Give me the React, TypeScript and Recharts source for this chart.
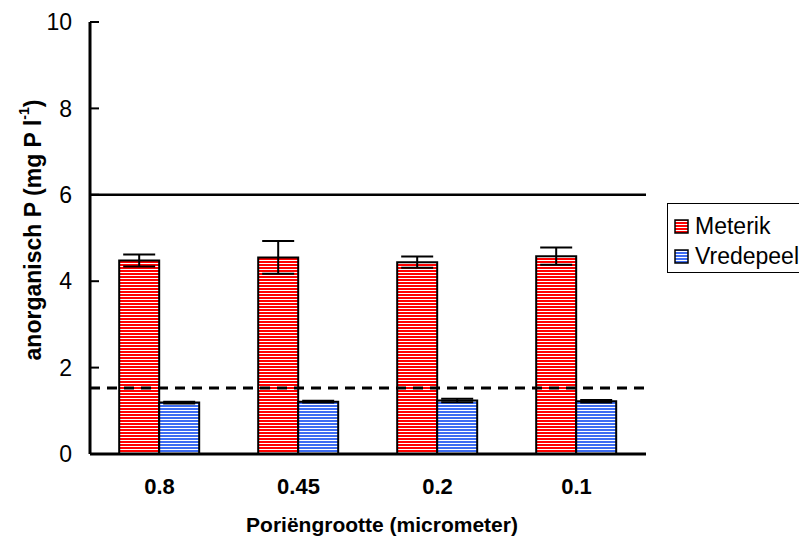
import React from 'react';
import {
  BarChart,
  Bar,
  XAxis,
  YAxis,
  ErrorBar,
  ReferenceLine,
  Legend
} from 'recharts';

// poriegrootte (micrometer)
const sizes = ['0.8', '0.45', '0.2', '0.1'];
const meterik = [4.48, 4.55, 4.44, 4.58];
const meterikErr = [0.14, 0.38, 0.13, 0.2];
const vredepeel = [1.19, 1.21, 1.24, 1.22];
const vredepeelErr = [0.02, 0.02, 0.04, 0.03];
const yTicks = [0, 2, 4, 6, 8, 10];
const limitLine = 6;
const dashedLine = 1.53;

const data = sizes.map((s, i) => ({
  size: s,
  meterik: meterik[i],
  meterikErr: meterikErr[i],
  vredepeel: vredepeel[i],
  vredepeelErr: vredepeelErr[i]
}));

const FONT = '"Liberation Sans", Arial, sans-serif';
const RED = '#ff0000';
const BLUE = '#3d6cf2';

const Stripes = ({ id, color }: { id: string; color: string }) => (
  <pattern id={id} width={4} height={3} patternUnits="userSpaceOnUse">
    <rect x={0} y={0} width={4} height={3} fill="#ffffff" />
    <rect x={0} y={0} width={4} height={2} fill={color} />
  </pattern>
);

const legendItems = [
  { name: 'Meterik', color: RED, id: 'lgRed' },
  { name: 'Vredepeel', color: BLUE, id: 'lgBlue' }
];

const CustomLegend = () => (
  <div
    style={{
      border: '1.5px solid #000',
      width: 150,
      height: 70,
      boxSizing: 'border-box',
      padding: '7px 0 0 6px',
      fontFamily: FONT,
      fontSize: 23,
      background: '#fff'
    }}
  >
    {legendItems.map((it) => (
      <div key={it.name} style={{ display: 'flex', alignItems: 'center', height: 30, whiteSpace: 'nowrap' }}>
        <svg width={16} height={15} style={{ marginRight: 5 }}>
          <defs>
            <Stripes id={it.id} color={it.color} />
          </defs>
          <rect x={1} y={1} width={13} height={13} fill={`url(#${it.id})`} stroke="#000" strokeWidth={1.5} />
        </svg>
        <span>{it.name}</span>
      </div>
    ))}
  </div>
);

const YTitle = ({ viewBox }: any) => {
  const cx = 33;
  const cy = viewBox.y + viewBox.height / 2 - 8;
  return (
    <text
      x={cx}
      y={cy}
      transform={`rotate(-90, ${cx}, ${cy})`}
      textAnchor="middle"
      dominantBaseline="central"
      fontFamily={FONT}
      fontWeight="bold"
      fontSize={23}
      fill="#000"
    >
      anorganisch P (mg P l
      <tspan fontSize={14} dy={-9}>-1</tspan>
      <tspan dy={9}>)</tspan>
    </text>
  );
};

export default function App() {
  return (
    <div style={{ position: 'absolute', left: 0, top: 0, width: 799, height: 540, overflow: 'hidden', background: '#fff' }}>
      <BarChart
        width={799}
        height={540}
        data={data}
        margin={{ top: 22, right: 3, bottom: 0, left: 0 }}
        barCategoryGap="21%"
        barGap={0}
      >
        <defs>
          <Stripes id="redStripes" color={RED} />
          <Stripes id="blueStripes" color={BLUE} />
        </defs>
        <XAxis
          dataKey="size"
          height={86}
          tickLine={false}
          tickSize={0}
          tickMargin={24}
          axisLine={{ stroke: '#000', strokeWidth: 3 }}
          tick={{ fontFamily: FONT, fontSize: 22, fontWeight: 'bold', fill: '#000' }}
          label={{
            value: 'Poriëngrootte (micrometer)',
            position: 'insideBottom',
            offset: 8,
            dx: 14,
            style: { fontFamily: FONT, fontSize: 21, fontWeight: 'bold', fill: '#000' }
          }}
        />
        <XAxis xAxisId="top" orientation="top" dataKey="size" height={0} tick={false} tickLine={false} axisLine={{ stroke: '#000', strokeWidth: 3 }} />
        <YAxis
          domain={[0, 10]}
          ticks={yTicks}
          width={90}
          tickSize={-9}
          tickMargin={27}
          tickLine={{ stroke: '#000', strokeWidth: 2 }}
          axisLine={{ stroke: '#000', strokeWidth: 3 }}
          tick={{ fontFamily: FONT, fontSize: 23, fill: '#000' }}
          label={<YTitle />}
        />
        <YAxis yAxisId="right" orientation="right" domain={[0, 10]} width={0} tick={false} tickLine={false} axisLine={{ stroke: '#000', strokeWidth: 3 }} />
        <Legend
          layout="vertical"
          align="right"
          verticalAlign="middle"
          content={<CustomLegend />}
          wrapperStyle={{ position: 'absolute', left: 667, top: 203, width: 150 }}
        />
        <ReferenceLine y={limitLine} stroke="#000" strokeWidth={2.5} />
        <Bar dataKey="meterik" name="Meterik" fill="url(#redStripes)" stroke="#000" strokeWidth={2} isAnimationActive={false}>
          <ErrorBar dataKey="meterikErr" width={16} stroke="#000" strokeWidth={2} isAnimationActive={false} />
        </Bar>
        <Bar dataKey="vredepeel" name="Vredepeel" fill="url(#blueStripes)" stroke="#000" strokeWidth={2} isAnimationActive={false}>
          <ErrorBar dataKey="vredepeelErr" width={16} stroke="#000" strokeWidth={2} isAnimationActive={false} />
        </Bar>
        <ReferenceLine y={dashedLine} stroke="#000" strokeWidth={3} strokeDasharray="10 7" />
      </BarChart>
    </div>
  );
}
